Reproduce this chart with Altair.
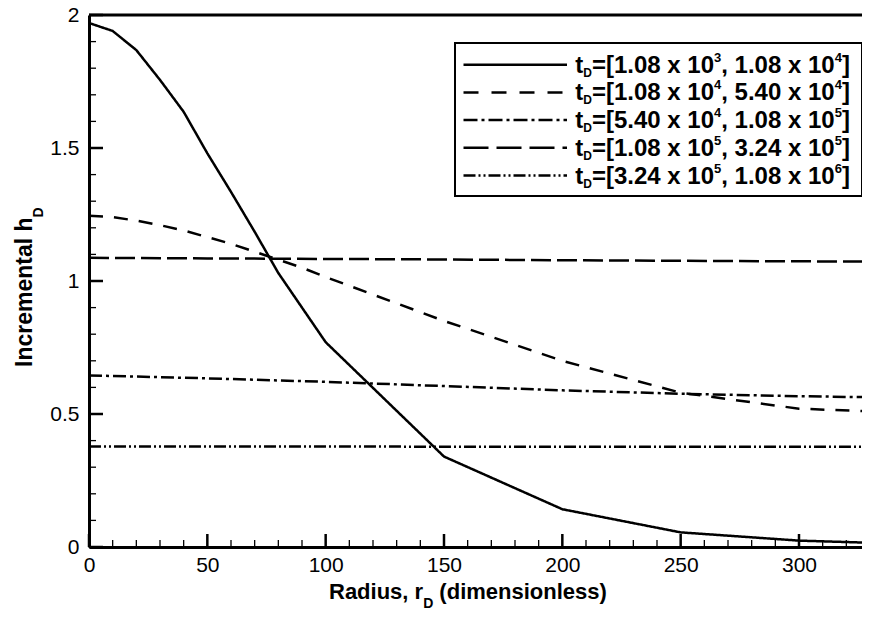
import altair as alt
import pandas as pd

# ---------------- data ----------------
r_fine = [0, 10, 20, 30, 40, 50, 60, 70, 80, 90, 100, 150, 200, 250, 300, 330]
h_s1 = [1.97, 1.94, 1.868, 1.756, 1.636, 1.48, 1.335, 1.185, 1.03, 0.90, 0.77,
        0.34, 0.142, 0.055, 0.024, 0.016]
h_s2 = [1.245, 1.24, 1.227, 1.21, 1.19, 1.165, 1.14, 1.11, 1.08, 1.05, 1.015,
        0.85, 0.70, 0.58, 0.52, 0.51]
r_coarse = [0, 50, 100, 150, 200, 250, 300, 330]
h_s3 = [0.645, 0.634, 0.621, 0.605, 0.589, 0.576, 0.567, 0.563]
h_s4 = [1.087, 1.085, 1.083, 1.081, 1.078, 1.076, 1.074, 1.073]
h_s5 = [0.378, 0.378, 0.378, 0.377, 0.377, 0.377, 0.377, 0.377]

series_keys = ["s1", "s2", "s3", "s4", "s5"]
legend_ranges = [("1.08", "3", "1.08", "4"),
                 ("1.08", "4", "5.40", "4"),
                 ("5.40", "4", "1.08", "5"),
                 ("1.08", "5", "3.24", "5"),
                 ("3.24", "5", "1.08", "6")]

x_major = [0, 50, 100, 150, 200, 250, 300]
y_major = [0, 0.5, 1, 1.5, 2]

# ---------------- styling ----------------
PX_PER_UNIT = 781 / 330.0
W, H = 773, 532
XMAX = W / PX_PER_UNIT
FONT = "Liberation Sans"
plot_dash = [[1, 0], [14, 11], [13, 4, 3, 4], [20, 6], [12, 3, 2, 3, 2, 3]]
legend_dash = [[1, 0], [15, 13], [14, 4, 3, 4], [25, 8], [12, 3, 2, 3, 2, 3]]

rows = []
for k, rr, hh in [("s1", r_fine, h_s1), ("s2", r_fine, h_s2), ("s3", r_coarse, h_s3),
                  ("s4", r_coarse, h_s4), ("s5", r_coarse, h_s5)]:
    for a, b in zip(rr, hh):
        rows.append({"r": a, "h": b, "series": k})
df = pd.DataFrame(rows)

xsc = alt.Scale(domain=[0, XMAX], nice=False, zero=False)
ysc = alt.Scale(domain=[0, 2], nice=False)

lines = alt.Chart(df).mark_line(color="black", strokeWidth=2.5, clip=True).encode(
    x=alt.X("r:Q", scale=xsc,
            axis=alt.Axis(values=x_major, title=None, grid=False, ticks=False,
                          domain=True, domainWidth=3, domainColor="black",
                          labelFont=FONT, labelFontSize=21, labelColor="black",
                          labelPadding=7.5, labelFlush=False, labelOverlap=False)),
    y=alt.Y("h:Q", scale=ysc,
            axis=alt.Axis(values=y_major, title=None, grid=False, ticks=False,
                          domain=True, domainWidth=3, domainColor="black", format=".1~f",
                          labelFont=FONT, labelFontSize=21, labelColor="black",
                          labelPadding=10, labelFlush=False, labelOverlap=False)),
    strokeDash=alt.StrokeDash("series:N",
                              scale=alt.Scale(domain=series_keys, range=plot_dash),
                              legend=None),
    detail="series:N",
)

top = alt.Chart(pd.DataFrame({"h": [2]})).mark_rule(color="black", strokeWidth=3).encode(
    y=alt.Y("h:Q", scale=ysc))

x_minor = [v for v in range(10, 330, 10) if v % 50 != 0]
y_minor = [round(v / 10, 1) for v in range(1, 20) if v % 5 != 0]

xt_major = alt.Chart(pd.DataFrame({"r": x_major})).mark_rule(color="black", strokeWidth=2.5).encode(
    x=alt.X("r:Q", scale=xsc), y=alt.value(H), y2=alt.value(H - 13))
xt_minor = alt.Chart(pd.DataFrame({"r": x_minor})).mark_rule(color="black", strokeWidth=1.3).encode(
    x=alt.X("r:Q", scale=xsc), y=alt.value(H), y2=alt.value(H - 7))
yt_major = alt.Chart(pd.DataFrame({"h": y_major})).mark_rule(color="black", strokeWidth=2.5).encode(
    y=alt.Y("h:Q", scale=ysc), x=alt.value(0), x2=alt.value(14))
yt_minor = alt.Chart(pd.DataFrame({"h": y_minor})).mark_rule(color="black", strokeWidth=1.3).encode(
    y=alt.Y("h:Q", scale=ysc), x=alt.value(0), x2=alt.value(7))

# ---------------- text helpers (Arial / Liberation Sans Bold metrics) ----------------
BW = {' ': 278, '(': 333, ')': 333, ',': 278, '.': 278, '=': 584, '[': 333, ']': 333,
      'x': 556, 't': 333, 'D': 722, 'R': 722, 'a': 556, 'd': 611, 'i': 278, 'u': 611,
      's': 556, 'r': 389, 'm': 889, 'e': 556, 'n': 611, 'o': 611, 'l': 278, 'I': 278,
      'c': 556, 'h': 611}


def tw(s, fs):
    return sum(BW.get(c, 556) for c in s) * fs / 1000.0


# ---------------- legend ----------------
box = alt.Chart(pd.DataFrame({"k": [0]})).mark_rect(fill="white", stroke="black", strokeWidth=2).encode(
    x=alt.value(366), x2=alt.value(773), y=alt.value(28), y2=alt.value(181))

row_y = [49.7 + i * 27.7 for i in range(5)]
leg_lines = alt.Chart(pd.DataFrame({"lk": series_keys, "ly": row_y})).mark_rule(
    color="black", strokeWidth=2.5).encode(
    x=alt.value(374.5), x2=alt.value(478),
    y=alt.Y("ly:Q", scale=None),
    strokeDash=alt.StrokeDash("lk:N", scale=alt.Scale(domain=series_keys, range=legend_dash),
                              legend=None),
)


def add_pieces(out, x, yb, seq):
    for s, fs, off in seq:
        lead = len(s) - len(s.lstrip(" "))
        x_draw = x + tw(" " * lead, fs)
        out.append({"px": x_draw, "py": yb + off, "txt": s.strip(" "), "fs": fs})
        x += tw(s, fs)


pieces = []
FS, FSUB, FSUP = 24, 12, 13
for i, (a, ae, b, be) in enumerate(legend_ranges):
    yb = row_y[i] + 8
    add_pieces(pieces, 486.3, yb,
               [("t", FS, 0), ("D", FSUB, 4), ("=[" + a + " x 10", FS, 0), (ae, FSUP, -11),
                (", " + b + " x 10", FS, 0), (be, FSUP, -11), ("]", FS, 0)])

# x-axis title
add_pieces(pieces, 240, 584, [("Radius, r", 22, 0), ("D", 14, 9), (" (dimensionless)", 22, 0)])

texts = alt.Chart(pd.DataFrame(pieces)).mark_text(
    align="left", baseline="alphabetic", font=FONT, fontWeight="bold", color="black").encode(
    x=alt.X("px:Q", scale=None), y=alt.Y("py:Q", scale=None),
    text="txt:N", size=alt.Size("fs:Q", scale=None))

# y-axis title (rotated)
rot = []
yx = -57
yy = 352
for s, fs, off in [("Incremental h", 23, 0), ("D", 14, 11)]:
    rot.append({"px": yx + off, "py": yy, "txt": s, "fs": fs})
    yy -= tw(s, fs)

rot_texts = alt.Chart(pd.DataFrame(rot)).mark_text(
    align="left", baseline="alphabetic", angle=270, font=FONT, fontWeight="bold",
    color="black").encode(
    x=alt.X("px:Q", scale=None), y=alt.Y("py:Q", scale=None),
    text="txt:N", size=alt.Size("fs:Q", scale=None))

chart = alt.layer(lines, top, xt_major, xt_minor, yt_major, yt_minor, box, leg_lines,
                  texts, rot_texts).resolve_scale(strokeDash="independent").properties(
    width=W, height=H,
    autosize=alt.AutoSizeParams(type="none"),
    padding={"left": 81, "top": 7, "right": 0, "bottom": 63},
    background="white",
).configure_view(stroke=None)

chart.save("out.html", embed_options={"renderer": "svg", "actions": False})
